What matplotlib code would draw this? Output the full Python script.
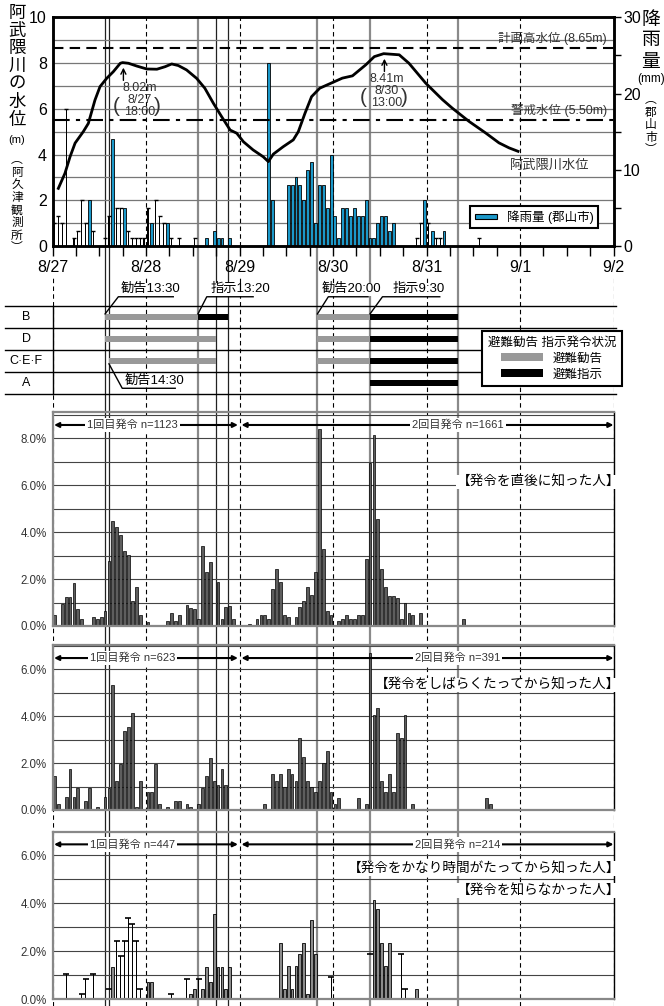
import numpy as np
import matplotlib
matplotlib.use('Agg')
import matplotlib.pyplot as plt
import matplotlib.transforms as mtransforms
from matplotlib.patches import Patch
from matplotlib.ticker import FuncFormatter

plt.rcParams['font.family'] = ['Liberation Sans', 'Noto Sans CJK JP']
plt.rcParams['axes.unicode_minus'] = False

# ---- データ (時刻は 8/27 0:00 からの経過時間 [h]) ----
day_labels = ['8/27', '8/28', '8/29', '8/30', '8/31', '9/1', '9/2']

level_hours = [1.5, 3.2, 4.5, 5.8, 7.9, 9.2, 10.9, 12.2, 13.9, 15.6, 17.4, 18.0, 19.5, 21.6,
               24.2, 26.8, 28.9, 30.6, 32.3, 34.4, 37.0, 39.1, 41.3, 43.4, 45.6, 47.3, 49.0,
               51.5, 54.1, 55.4, 56.7, 59.2, 61.8, 63.1, 64.8, 66.5, 68.6, 71.5, 74.4, 77.0,
               80.4, 82.6, 85.0, 89.0, 91.5, 95.8, 100.1, 102.6, 106.9, 111.2, 114.6, 117.2, 119.5]
level_m = [2.52, 3.18, 3.9, 4.5, 5.0, 5.36, 6.38, 6.97, 7.33, 7.62, 7.99, 8.02, 7.99, 7.87,
           7.74, 7.73, 7.84, 7.96, 7.89, 7.7, 7.33, 6.9, 6.24, 5.66, 5.07, 4.93, 4.56,
           4.2, 3.9, 3.69, 4.02, 4.34, 4.64, 5.0, 5.8, 6.53, 6.9, 7.12, 7.34, 7.44,
           7.92, 8.28, 8.41, 8.36, 7.99, 7.12, 6.4, 6.03, 5.45, 4.94, 4.51, 4.29, 4.14]
plan_level = 8.65
warn_level = 5.50

# 降雨量 (郡山市)
rain_hours = [9, 15, 18, 25, 29, 39, 41, 42, 43, 45, 55, 56, 60, 61, 62, 63, 64, 65, 66, 67,
              68, 69, 70, 71, 72, 73, 74, 75, 76, 77, 78, 79, 80, 81, 82, 83, 84, 85, 86, 87,
              95, 97, 100]
rain_mm = [6, 14, 5, 3, 3, 1, 2, 1, 1, 1, 24, 6, 8, 8, 9, 8, 6, 10, 11, 3,
           8, 8, 5, 12, 4, 1, 5, 5, 4, 5, 4, 4, 6, 1, 1, 3, 4, 4, 2, 3,
           6, 2, 2]
# 細線で描かれた降雨量
rain2_hours = [0, 1, 2, 3, 5, 6, 7, 8, 10, 13, 14, 16, 17, 19, 20, 21, 22, 23, 24, 26,
               27, 28, 30, 32, 36, 93, 94, 96, 98, 99, 109]
rain2_mm = [3, 4, 3, 18, 1, 2, 6, 3, 2, 1, 4, 5, 5, 2, 1, 1, 1, 1, 5, 6,
            4, 3, 1, 1, 1, 1, 3, 3, 1, 1, 1]

# 避難勧告・指示 発令状況
rows = ['B', 'D', 'C·E·F', 'A']
advisory_periods = [[(13.5, 37.33), (68, 81.5)],
                    [(13.5, 42), (68, 81.5)],
                    [(14.5, 42), (68, 81.5)],
                    []]
order_periods = [[(37.33, 45), (81.5, 104)],
                 [(81.5, 104)],
                 [(81.5, 104)],
                 [(81.5, 104)]]
event_times_dark = [13.5, 14.5, 42, 45]
event_times_gray = [37.33, 68, 81.5, 104]

# 発令を知った時刻の分布 (%)
p1_hours = [0, 2, 3, 4, 5, 6, 7, 10, 11, 12, 13, 14, 15, 16, 17, 18, 19, 20, 21, 22,
            24, 29, 30, 31, 32, 34, 35, 36, 37, 38, 39, 40, 42, 43, 44, 45, 46, 50, 52, 53,
            54, 55, 56, 57, 58, 59, 60, 62, 63, 64, 65, 66, 67, 68, 69, 70, 71, 73, 74, 75,
            76, 77, 78, 79, 80, 81, 82, 83, 84, 85, 86, 87, 88, 89, 90, 91, 92, 94, 99, 105, 111]
p1_pct = [0.47, 0.95, 1.22, 1.22, 1.82, 0.71, 0.3, 0.37, 0.3, 0.37, 0.64, 2.77, 4.47, 4.2, 3.87, 3.19, 3.02, 1.06, 1.65, 0.47,
          0.18, 0.21, 0.54, 0.21, 0.47, 0.89, 0.78, 0.71, 0.3, 3.42, 2.31, 2.74, 1.89, 0.3, 0.79, 0.87, 0.28, 0.08, 0.3, 0.47,
          0.47, 0.3, 1.57, 2.41, 1.89, 0.47, 0.37, 0.37, 0.79, 1.06, 1.65, 1.32, 2.31, 8.37, 3.26, 0.64, 0.47, 0.21, 0.3, 0.47,
          0.3, 0.3, 0.47, 0.47, 2.84, 6.92, 8.13, 4.55, 2.41, 1.65, 1.29, 1.29, 1.2, 0.3, 0.99, 0.57, 0.47, 0.57, 0.05, 0.3, 0.05]
p2_hours = [0, 1, 3, 4, 5, 6, 8, 9, 11, 13, 14, 15, 16, 17, 18, 19, 20, 21, 22, 24,
            25, 26, 27, 29, 31, 32, 34, 35, 37, 38, 39, 40, 41, 42, 43, 44, 50, 54, 56, 57,
            58, 59, 60, 61, 62, 63, 64, 65, 66, 67, 68, 69, 70, 71, 72, 73, 78, 80, 81, 82,
            83, 84, 85, 86, 87, 88, 89, 90, 92, 111, 112]
p2_pct = [1.45, 0.26, 0.57, 1.75, 0.57, 0.92, 0.4, 0.92, 0.14, 0.57, 0.92, 5.33, 1.25, 1.95, 3.39, 3.56, 4.15, 0.14, 1.25, 0.75,
          0.75, 1.95, 0.24, 0.14, 0.4, 0.4, 0.24, 0.14, 0.24, 0.92, 1.45, 2.2, 1.25, 1.07, 1.76, 1.07, 0.05, 0.24, 1.52, 1.25,
          1.52, 1.0, 1.76, 1.52, 1.25, 3.06, 2.28, 1.25, 1.0, 0.75, 1.25, 2.02, 2.53, 0.75, 0.24, 0.5, 0.5, 0.24, 6.71, 4.05,
          4.34, 1.25, 0.75, 1.52, 0.75, 3.3, 3.06, 4.05, 0.24, 0.5, 0.24]
p3_hours = [15, 24, 25, 35, 36, 38, 39, 40, 41, 42, 43, 44, 45, 58, 59, 60, 61, 62, 63, 64,
            65, 66, 67, 82, 83, 84, 85, 86, 93]
p3_pct = [1.33, 0.69, 0.69, 0.19, 0.42, 0.42, 1.33, 0.69, 3.55, 1.33, 1.33, 0.42, 1.33, 2.35, 0.42, 1.38, 0.42, 1.38, 1.89, 2.35,
          0.19, 3.31, 1.89, 4.12, 3.77, 2.35, 1.38, 2.35, 0.42]
p4_hours = [3, 7, 8, 10, 14, 16, 17, 18, 19, 20, 21, 22, 30, 34, 37, 71, 81, 89, 90]
p4_pct = [1.06, 0.19, 0.82, 1.06, 0.42, 2.42, 1.78, 2.42, 3.37, 3.15, 2.42, 0.42, 0.19, 0.85, 0.85, 0.92, 1.86, 1.86, 0.42]

first_n = [1123, 623, 447]
second_n = [1661, 391, 214]
group_labels = ['【発令を直後に知った人】', '【発令をしばらくたってから知った人】',
                '【発令をかなり時間がたってから知った人】', '【発令を知らなかった人】']

# ---- レイアウト ----
W, H = 664.0, 1006.0
XL, XR = 52.5, 613.5
X_MAX = 24 * (len(day_labels) - 1)
BLUE = '#1b98c9'


def rect(x0, ytop, x1, ybot):
    return [x0 / W, 1 - ybot / H, (x1 - x0) / W, (ybot - ytop) / H]


fig = plt.figure(figsize=(W / 100, H / 100), dpi=100)

# 全体を貫く縦線 (発令時刻・日付)
ax_ev = fig.add_axes(rect(XL, 17.3, XR, H), zorder=-2)
ax_day = fig.add_axes(rect(XL, 277, XR, H), zorder=-2)
for a in (ax_ev, ax_day):
    a.set_xlim(0, X_MAX)
    a.set_ylim(0, 1)
    a.axis('off')
for t in event_times_dark:
    ax_ev.axvline(t, color='#222222', lw=0.9)
for t in event_times_gray:
    ax_ev.axvline(t, color='#8a8a8a', lw=1.6)
for d in range(len(day_labels)):
    ax_day.axvline(d * 24, color='k', lw=0.8, dashes=(4, 3))

# ---- 上段: 水位と降雨量 ----
ax = fig.add_axes(rect(XL, 17.3, XR, 246))
ax2 = ax.twinx()
ax.set_zorder(1)
ax2.set_zorder(0)
ax.patch.set_visible(False)

ax2.hlines(np.arange(3, 30, 3), 0, X_MAX, color='#777777', lw=0.9, zorder=0)
for d in range(1, len(day_labels) - 1):
    ax2.axvline(d * 24, color='k', lw=0.8, dashes=(4, 3), zorder=1)
ax2.bar(np.array(rain_hours) + 0.5, rain_mm, width=0.75, color=BLUE, edgecolor='k', lw=0.6, zorder=2)
ax2.bar(np.array(rain2_hours) + 0.5, rain2_mm, width=0.3, color='k', zorder=2)
ax2.plot(np.array(rain2_hours) + 0.5, rain2_mm, ls='none', marker='_', ms=3, mew=1, color='k', zorder=2)
ax2.set_ylim(0, 30)
ax2.set_yticks(np.arange(0, 31, 10))
ax2.set_yticks(np.arange(0, 31, 5), minor=True)
ax2.tick_params(axis='y', which='both', direction='out', length=5, width=1, labelsize=11.5, pad=2)

ax.plot(level_hours, level_m, color='k', lw=2, zorder=3)
ax.axhline(plan_level, color='k', lw=1.5, dashes=(5, 3))
ax.axhline(warn_level, color='k', lw=1.5, dashes=(8, 3, 2, 3))
ax.set_xlim(0, X_MAX)
ax.set_ylim(0, 10)
ax.set_yticks(range(0, 11, 2))
ax.tick_params(axis='y', length=0, labelsize=11.5, pad=4)
ax.set_xticks(np.arange(0, X_MAX + 1, 24))
ax.set_xticklabels(day_labels)
ax.set_xticks(np.arange(0, X_MAX + 1, 6), minor=True)
ax.tick_params(axis='x', which='both', direction='out', length=7, width=1, labelsize=11.5, pad=3)
for a in (ax, ax2):
    for s in a.spines.values():
        s.set_linewidth(1.8)

# ピーク水位の注記
lv_h = np.array(level_hours)
lv_m = np.array(level_m)
for (lo, hi), dx in [((0, 48), 4.3), ((48, 144), 0.8)]:
    sel = np.where((lv_h >= lo) & (lv_h < hi))[0]
    i = sel[np.argmax(lv_m[sel])]
    ph, pm = lv_h[i], lv_m[i]
    ax.annotate('', xy=(ph + 0.2, pm - 0.1), xytext=(ph + 0.2, pm - 0.9),
                arrowprops=dict(arrowstyle='->', color='k', lw=1, mutation_scale=9), zorder=4)
    tx = ph + dx
    ax.text(tx, pm - 1.1, f'{pm:.2f}m', ha='center', va='center', fontsize=9, color='#333333')
    ax.text(tx, pm - 1.64, day_labels[int(ph // 24)], ha='center', va='center', fontsize=9, color='#333333')
    ax.text(tx, pm - 2.16, f'{int(ph % 24):02d}:00', ha='center', va='center', fontsize=9, color='#333333')
    ax.text(tx - 6.0, pm - 1.9, '(', ha='center', va='center', fontsize=15, color='#333333')
    ax.text(tx + 4.5, pm - 1.9, ')', ha='center', va='center', fontsize=15, color='#333333')

ax.text(142.3, 9.09, f'計画高水位 ({plan_level:.2f}m)', ha='right', va='center', fontsize=9, color='#333333')
ax.text(142.3, 5.95, f'警戒水位 ({warn_level:.2f}m)', ha='right', va='center', fontsize=9, color='#333333')
ax.text(127.7, 3.5, '阿武隈川水位', ha='center', va='center', fontsize=9.5, color='#333333')
leg = ax.legend(handles=[Patch(facecolor=BLUE, edgecolor='k', lw=0.8)], labels=['降雨量 (郡山市)'],
                loc='lower right', bbox_to_anchor=(0.973, 0.077), borderaxespad=0, fontsize=9,
                handlelength=1.8, handleheight=0.35, fancybox=False, framealpha=1, edgecolor='k',
                borderpad=0.35)
leg.get_frame().set_linewidth(1.5)


def vtext(x, ytop, s, size, pitch):
    for i, ch in enumerate(s):
        fig.text(x / W, 1 - (ytop + i * pitch) / H, ch, ha='center', va='center', fontsize=size)


vtext(17, 13, '阿武隈川の水位', 12.5, 17.8)
fig.text(17 / W, 1 - 140 / H, '(m)', ha='center', va='center', fontsize=8)
vtext(17, 160, '︵阿久津観測所︶', 8.5, 12.6)
vtext(651, 20, '降雨量', 13.5, 21)
fig.text(651 / W, 1 - 79 / H, '(mm)', ha='center', va='center', fontsize=8.5)
vtext(651, 100, '︵郡山市︶', 8.5, 12.5)

# ---- 中段: 発令状況 ----
gx = fig.add_axes(rect(XL, 306, XR, 394), zorder=1)
gx.patch.set_visible(False)
gx.set_xlim(0, X_MAX)
gx.set_ylim(len(rows), 0)
gx.set_xticks([])
gx.set_yticks([])
for k, s in gx.spines.items():
    s.set_visible(k == 'left')
gx.spines['left'].set_linewidth(1)
for i in range(len(rows) + 1):
    gx.axhline(i, xmin=-0.085, xmax=1.005, color='k', lw=1, clip_on=False)
blend = mtransforms.blended_transform_factory(gx.transAxes, gx.transData)
for i, r in enumerate(rows):
    gx.text(-0.047, i + 0.5, r, transform=blend, ha='center', va='center', fontsize=9)
    for s, e in advisory_periods[i]:
        gx.barh(i + 0.5, e - s, left=s, height=0.27, color='#999999', zorder=3)
    for s, e in order_periods[i]:
        gx.barh(i + 0.5, e - s, left=s, height=0.27, color='k', zorder=3)


def callout(t, yb, x0, x1, yu, label, xt):
    gx.plot([t, x0, x1], [yb, yu, yu], color='k', lw=1, clip_on=False, zorder=5)
    gx.text(xt, yu - 0.07, label, ha='left', va='bottom', fontsize=9.5, zorder=4,
            bbox=dict(fc='white', ec='none', pad=0.3))


callout(13.5, 0.36, 16.9, 31.0, -0.42, '勧告13:30', 17.6)
callout(37.33, 0.36, 39.6, 51.5, -0.42, '指示13:20', 40.6)
callout(68, 0.36, 70.8, 81.0, -0.42, '勧告20:00', 69.0)
callout(81.5, 0.36, 84.7, 99.4, -0.42, '指示9:30', 87.2)
callout(14.5, 2.63, 17.9, 31.5, 3.74, '勧告14:30', 18.5)

gleg = gx.legend(handles=[Patch(facecolor='#999999'), Patch(facecolor='k')], labels=['避難勧告', '避難指示'],
                 title='避難勧告 指示発令状況', loc='lower right', bbox_to_anchor=(1.015, 0.09),
                 borderaxespad=0, fontsize=9, title_fontsize=9, handlelength=3.3, handleheight=0.6,
                 fancybox=False, framealpha=1, edgecolor='k', borderpad=0.45, labelspacing=0.3)
gleg.get_frame().set_linewidth(1.5)
gleg.set_zorder(6)

# ---- 下段: 発令を知った時刻の分布 ----


def panel(ytop, ybot, ymax):
    p = fig.add_axes(rect(XL, ytop, XR, ybot), zorder=1)
    p.patch.set_visible(False)
    p.set_xlim(0, X_MAX)
    p.set_ylim(0, ymax)
    p.set_xticks([])
    p.set_yticks(np.arange(0, ymax, 2))
    p.set_yticks(np.arange(1, ymax, 1), minor=True)
    p.yaxis.set_major_formatter(FuncFormatter(lambda v, _: f'{v:.1f}%'))
    p.tick_params(axis='y', which='both', length=0, labelsize=8.3, labelcolor='#333333', pad=4)
    p.grid(axis='y', which='both', color='#444444', lw=0.8)
    p.set_axisbelow(True)
    for k, s in p.spines.items():
        s.set_color('#888888')
        s.set_linewidth(1.6)
    p.spines['right'].set_color('k')
    p.spines['right'].set_linewidth(1.0)
    return p


def phase_arrows(p, n1, n2, yf):
    kw = dict(xycoords=('data', 'axes fraction'), textcoords=('data', 'axes fraction'),
              arrowprops=dict(arrowstyle='<|-|>', color='k', lw=1.5, mutation_scale=7,
                              shrinkA=0, shrinkB=0))
    p.annotate('', xy=(0.4, yf), xytext=(47.6, yf), **kw)
    p.annotate('', xy=(48.5, yf), xytext=(X_MAX, yf), **kw)
    tr = mtransforms.blended_transform_factory(p.transData, p.transAxes)
    for x, s in [(20.5, f'1回目発令 n={n1}'), (104, f'2回目発令 n={n2}')]:
        p.text(x, yf, s, transform=tr, ha='center', va='center', fontsize=8, color='#333333',
               bbox=dict(fc='white', ec='none', pad=1.5), zorder=5)


def group_label(p, s, yf):
    p.text(1.012, yf, s, transform=p.transAxes, ha='right', va='center', fontsize=9.8,
           bbox=dict(fc='white', ec='none', pad=0.3), zorder=5)


pa = panel(411.7, 626, 9.12)
pa.bar(np.array(p1_hours) + 0.5, p1_pct, width=0.72, color='#5e5e5e', edgecolor='k', lw=0.5, zorder=2)
phase_arrows(pa, first_n[0], second_n[0], 0.938)
group_label(pa, group_labels[0], 0.672)

pb = panel(645, 810, 7.04)
pb.bar(np.array(p2_hours) + 0.5, p2_pct, width=0.72, color='#5e5e5e', edgecolor='k', lw=0.5, zorder=2)
phase_arrows(pb, first_n[1], second_n[1], 0.921)
group_label(pb, group_labels[1], 0.758)

pc = panel(832, 999, 6.97)
pc.bar(np.array(p3_hours) + 0.5, p3_pct, width=0.72, color='#8c8c8c', edgecolor='k', lw=0.6, zorder=2)
pc.bar(np.array(p4_hours) + 0.5, p4_pct, width=0.25, color='k', zorder=2)
pc.plot(np.array(p4_hours) + 0.5, p4_pct, ls='none', marker='_', ms=4, mew=1.2, color='k', zorder=2)
phase_arrows(pc, first_n[2], second_n[2], 0.926)
group_label(pc, group_labels[2], 0.783)
group_label(pc, group_labels[3], 0.651)

fig.savefig('out.png', dpi=100, facecolor='white')
